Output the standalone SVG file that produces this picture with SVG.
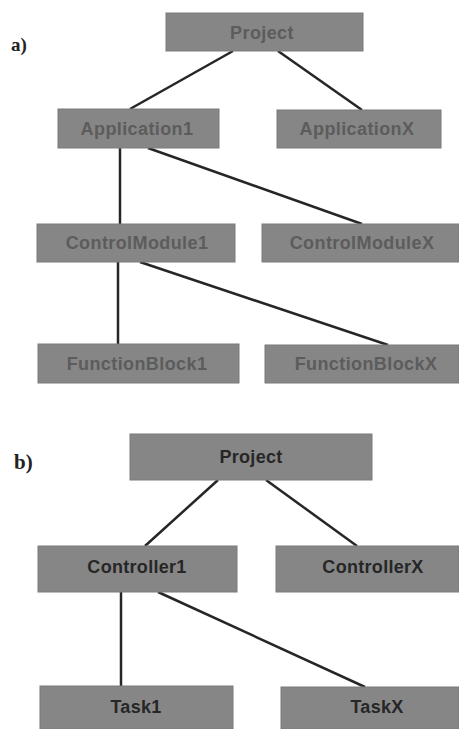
<svg xmlns="http://www.w3.org/2000/svg" width="459" height="729" viewBox="0 0 459 729">
<style>
.box{fill:#868686;stroke:#7a7a7a;stroke-width:1}
.ta{font-family:"Liberation Sans",Arial,sans-serif;font-size:18px;font-weight:bold;fill:#5c5c5c;text-anchor:middle;letter-spacing:0.4px}
.tb{font-family:"Liberation Sans",Arial,sans-serif;font-size:18px;font-weight:bold;fill:#262626;text-anchor:middle;letter-spacing:0.3px}
.lbl{font-family:"Liberation Serif","Times New Roman",serif;font-weight:bold;fill:#222}
.ln{stroke:#262626;stroke-width:2.5;fill:none}
</style>
<rect width="459" height="729" fill="#ffffff"/>
<text class="lbl" x="11" y="51" font-size="19">a)</text>
<text class="lbl" x="14" y="469" font-size="21">b)</text>
<g id="connectors">
<line class="ln" x1="233" y1="51" x2="130" y2="109"/>
<line class="ln" x1="278" y1="51" x2="362" y2="110"/>
<line class="ln" x1="120" y1="148" x2="120" y2="224"/>
<line class="ln" x1="148" y1="148" x2="362" y2="224"/>
<line class="ln" x1="118" y1="262" x2="118" y2="344"/>
<line class="ln" x1="140" y1="262" x2="388" y2="345"/>
<line class="ln" x1="218" y1="480" x2="145" y2="546"/>
<line class="ln" x1="266" y1="480" x2="357" y2="546"/>
<line class="ln" x1="121" y1="592" x2="121" y2="686"/>
<line class="ln" x1="158" y1="592" x2="365" y2="687"/>
</g>
<g id="a_project"><rect class="box" x="166" y="13" width="197" height="38"/><text class="ta" x="262" y="39">Project</text></g>
<g id="a_application1"><rect class="box" x="58" y="109" width="161" height="39"/><text class="ta" x="137" y="135">Application1</text></g>
<g id="a_applicationx"><rect class="box" x="277" y="110" width="164" height="38"/><text class="ta" x="357" y="135">ApplicationX</text></g>
<g id="a_controlmodule1"><rect class="box" x="37" y="224" width="198" height="38"/><text class="ta" x="137" y="249">ControlModule1</text></g>
<g id="a_controlmodulex"><rect class="box" x="262" y="224" width="197" height="38"/><text class="ta" x="362" y="249">ControlModuleX</text></g>
<g id="a_functionblock1"><rect class="box" x="38" y="344" width="201" height="39"/><text class="ta" x="137" y="370">FunctionBlock1</text></g>
<g id="a_functionblockx"><rect class="box" x="265" y="345" width="194" height="38"/><text class="ta" x="366" y="370">FunctionBlockX</text></g>
<g id="b_project"><rect class="box" x="130" y="434" width="242" height="46"/><text class="tb" x="251" y="463">Project</text></g>
<g id="b_controller1"><rect class="box" x="38" y="546" width="199" height="46"/><text class="tb" x="137" y="573">Controller1</text></g>
<g id="b_controllerx"><rect class="box" x="276" y="546" width="183" height="46"/><text class="tb" x="373" y="573">ControllerX</text></g>
<g id="b_task1"><rect class="box" x="40" y="686" width="193" height="43"/><text class="tb" x="136" y="713">Task1</text></g>
<g id="b_taskx"><rect class="box" x="281" y="687" width="178" height="42"/><text class="tb" x="377" y="713">TaskX</text></g>
</svg>
